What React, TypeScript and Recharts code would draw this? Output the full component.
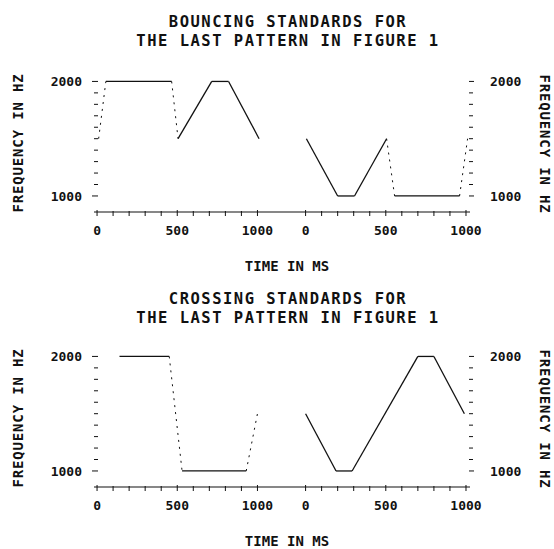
import React from 'react';
import { LineChart, Line, XAxis, YAxis } from 'recharts';

// ---------- data (time in ms, frequency in Hz) ----------
const timeTicks = [0, 100, 200, 300, 400, 500, 600, 700, 800, 900, 1000];
const timeLabels = [0, 500, 1000];
const freqTicks = [1000, 1100, 1200, 1300, 1400, 1500, 1600, 1700, 1800, 1900, 2000];
const freqLabels = [1000, 2000];

// Bouncing standards
const bouncingLeftTime = [10, 55, 465, 505, 715, 820, 1010];
const bouncingLeftFreq = [1500, 2000, 2000, 1500, 2000, 2000, 1500];
const bouncingRightTime = [5, 200, 305, 505, 555, 960, 1010];
const bouncingRightFreq = [1500, 1000, 1000, 1500, 1000, 1000, 1500];

// Crossing standards
const crossingLeftTime = [140, 450, 530, 930, 1000];
const crossingLeftFreq = [2000, 2000, 1000, 1000, 1500];
const crossingRightTime = [0, 190, 290, 700, 800, 990];
const crossingRightFreq = [1500, 1000, 1000, 2000, 2000, 1500];

// ---------- layout ----------
const W = 554;
const PANEL_H = 275;
const RIGHT_OFFSET = 1300; // right sub-plot starts this far along the shared axis
const INK = '#111';
const FONT = '"DejaVu Sans Mono", monospace';
const TS = 4;
const TM = 2;

const allTimeTicks = [...timeTicks, ...timeTicks.map((t) => t + RIGHT_OFFSET)];

type Seg = { data: { t: number; f: number }[]; steep: boolean };

function buildSegments(times: number[], freqs: number[], offset: number): Seg[] {
  const segs: Seg[] = [];
  for (let i = 0; i < times.length - 1; i++) {
    const dt = times[i + 1] - times[i];
    const df = Math.abs(freqs[i + 1] - freqs[i]);
    segs.push({
      data: [
        { t: times[i] + offset, f: freqs[i] },
        { t: times[i + 1] + offset, f: freqs[i + 1] },
      ],
      steep: df / dt > 5,
    });
  }
  return segs;
}

const XTick = (p: any) => {
  const { x, y, payload } = p;
  const ay = y - TS - TM;
  const v = payload.value as number;
  const local = v >= RIGHT_OFFSET - 100 ? v - RIGHT_OFFSET : v;
  const major = timeLabels.includes(local);
  return (
    <g>
      <line x1={x} x2={x} y1={ay - (major ? 2 : 1)} y2={ay + 4} stroke={INK} strokeWidth={1} />
      {major && (
        <text x={x} y={ay + 23} textAnchor="middle" fontFamily={FONT} fontWeight="bold" fontSize={13} fill={INK}>
          {local}
        </text>
      )}
    </g>
  );
};

const LeftTick = (p: any) => {
  const { x, y, payload } = p;
  const ax = x + TS + TM;
  const v = payload.value as number;
  const major = freqLabels.includes(v);
  return (
    <g>
      <line x1={ax + (major ? -2 : 0)} x2={ax + 4} y1={y} y2={y} stroke={INK} strokeWidth={1} />
      {major && (
        <text x={ax - 12} y={y + 5} textAnchor="end" fontFamily={FONT} fontWeight="bold" fontSize={13} fill={INK}>
          {v}
        </text>
      )}
    </g>
  );
};

const RightTick = (p: any) => {
  const { x, y, payload } = p;
  const ax = x - TS - TM;
  const v = payload.value as number;
  const major = freqLabels.includes(v);
  return (
    <g>
      <line x1={ax - 1} x2={ax + (major ? 4 : 3)} y1={y} y2={y} stroke={INK} strokeWidth={1} />
      {major && (
        <text x={ax + 20} y={y + 5} textAnchor="start" fontFamily={FONT} fontWeight="bold" fontSize={13} fill={INK}>
          {v}
        </text>
      )}
    </g>
  );
};

type PanelProps = {
  top: number;
  title1: string;
  title2: string;
  titleY1: number;
  titleY2: number;
  leftTime: number[];
  leftFreq: number[];
  rightTime: number[];
  rightFreq: number[];
};

const Panel = ({ top, title1, title2, titleY1, titleY2, leftTime, leftFreq, rightTime, rightFreq }: PanelProps) => {
  const segs = [...buildSegments(leftTime, leftFreq, 0), ...buildSegments(rightTime, rightFreq, RIGHT_OFFSET)];
  return (
    <div style={{ position: 'absolute', left: 0, top, width: W, height: PANEL_H }}>
      <LineChart
        width={W}
        height={PANEL_H}
        margin={{ top: 78, right: 0, bottom: 33, left: 0 }}
        style={{ position: 'absolute', left: 0, top: 0 }}
      >
        <XAxis
          dataKey="t"
          type="number"
          domain={[-19, 2325]}
          allowDataOverflow
          ticks={allTimeTicks}
          interval={0}
          height={30}
          tickSize={TS}
          tickMargin={TM}
          tickLine={false}
          tick={<XTick />}
          axisLine={{ stroke: INK, strokeWidth: 1.2 }}
        />
        <YAxis
          yAxisId="left"
          orientation="left"
          type="number"
          domain={[860, 2030]}
          allowDataOverflow
          ticks={freqTicks}
          interval={0}
          width={94}
          tickSize={TS}
          tickMargin={TM}
          tickLine={false}
          axisLine={false}
          tick={<LeftTick />}
        />
        <YAxis
          yAxisId="right"
          orientation="right"
          type="number"
          domain={[860, 2030]}
          allowDataOverflow
          ticks={freqTicks}
          interval={0}
          width={84}
          tickSize={TS}
          tickMargin={TM}
          tickLine={false}
          axisLine={false}
          tick={<RightTick />}
        />
        {segs.map((s, i) => (
          <Line
            key={i}
            yAxisId="left"
            data={s.data}
            dataKey="f"
            type="linear"
            dot={false}
            activeDot={false}
            isAnimationActive={false}
            stroke={INK}
            strokeWidth={s.steep ? 1 : 1.3}
            strokeDasharray={s.steep ? '2 5' : undefined}
          />
        ))}
      </LineChart>
      <svg
        width={W}
        height={PANEL_H}
        style={{ position: 'absolute', left: 0, top: 0, pointerEvents: 'none' }}
      >
        <text x={288} y={titleY1} textAnchor="middle" fontFamily={FONT} fontWeight="bold" fontSize={15.5} letterSpacing={1.5} fill={INK}>
          {title1}
        </text>
        <text x={288} y={titleY2} textAnchor="middle" fontFamily={FONT} fontWeight="bold" fontSize={15.5} letterSpacing={1.5} fill={INK}>
          {title2}
        </text>
        <text x={287} y={271} textAnchor="middle" fontFamily={FONT} fontWeight="bold" fontSize={14} fill={INK}>
          TIME IN MS
        </text>
        <text
          x={0}
          y={0}
          transform="translate(23,143) rotate(-90)"
          textAnchor="middle"
          fontFamily={FONT}
          fontWeight="bold"
          fontSize={14}
          letterSpacing={0.85}
          fill={INK}
        >
          FREQUENCY IN HZ
        </text>
        <text
          x={0}
          y={0}
          transform="translate(540,144) rotate(90)"
          textAnchor="middle"
          fontFamily={FONT}
          fontWeight="bold"
          fontSize={14}
          letterSpacing={0.85}
          fill={INK}
        >
          FREQUENCY IN HZ
        </text>
      </svg>
    </div>
  );
};

export default function App() {
  return (
    <div style={{ position: 'absolute', left: 0, top: 0, width: W, height: 549, background: '#fff', overflow: 'hidden' }}>
      <Panel
        top={0}
        title1="BOUNCING STANDARDS FOR"
        title2="THE LAST PATTERN IN FIGURE 1"
        titleY1={27}
        titleY2={45.5}
        leftTime={bouncingLeftTime}
        leftFreq={bouncingLeftFreq}
        rightTime={bouncingRightTime}
        rightFreq={bouncingRightFreq}
      />
      <Panel
        top={275}
        title1="CROSSING STANDARDS FOR"
        title2="THE LAST PATTERN IN FIGURE 1"
        titleY1={29}
        titleY2={47.5}
        leftTime={crossingLeftTime}
        leftFreq={crossingLeftFreq}
        rightTime={crossingRightTime}
        rightFreq={crossingRightFreq}
      />
    </div>
  );
}
